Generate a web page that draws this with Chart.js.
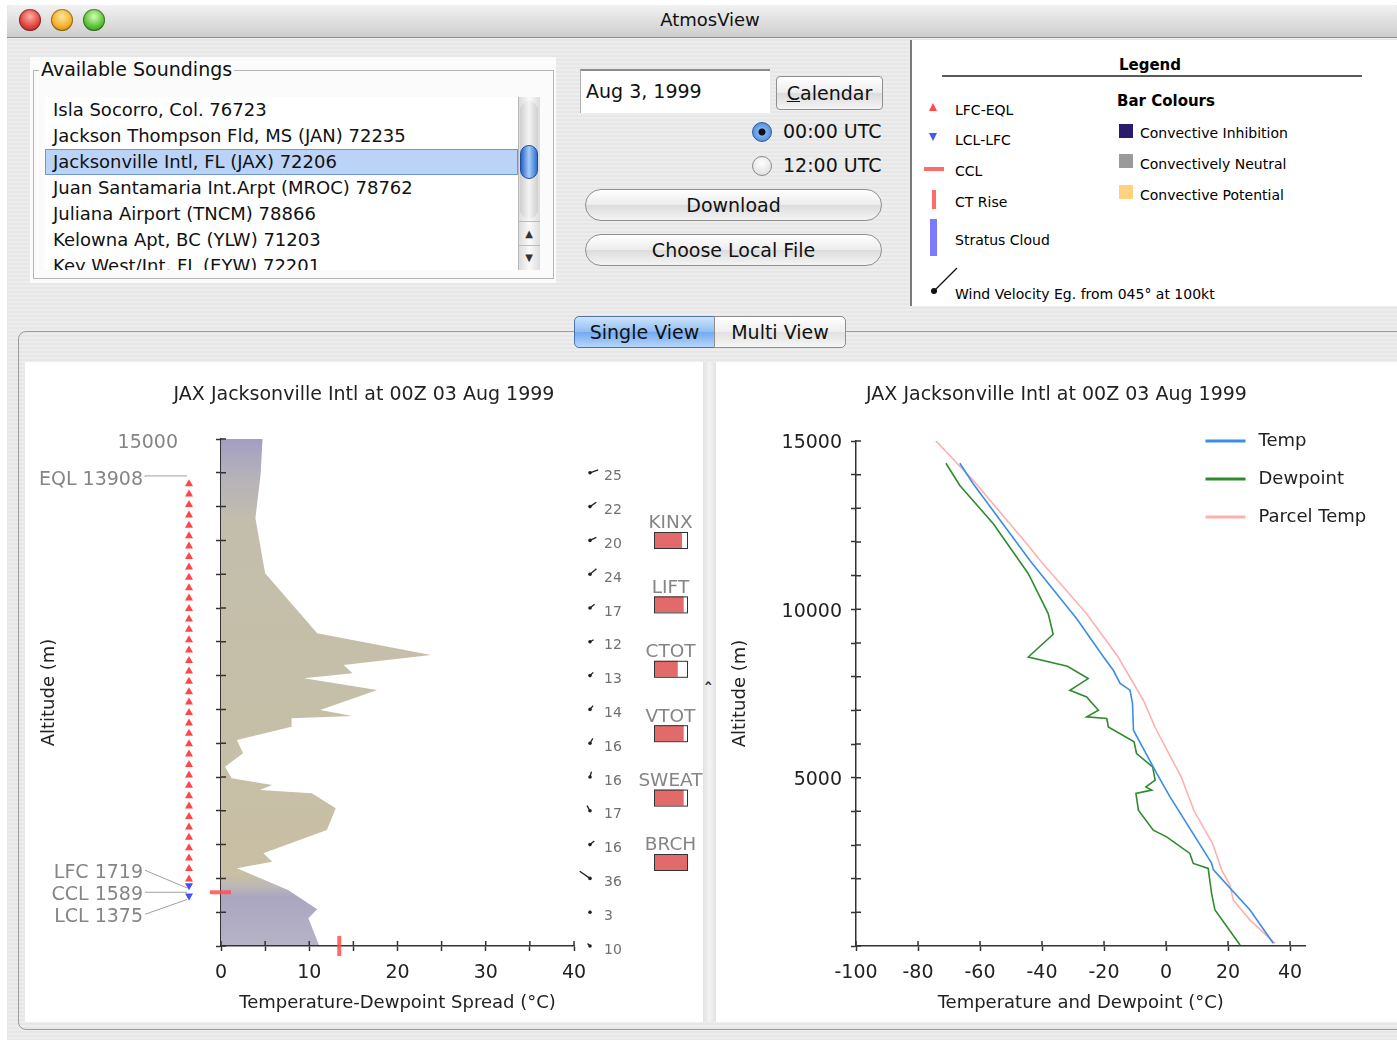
<!DOCTYPE html>
<html>
<head>
<meta charset="utf-8">
<title>AtmosView</title>
<script src="https://cdn.jsdelivr.net/npm/chart.js@4.4.1/dist/chart.umd.min.js"></script>
<style>
  body { margin:0; width:1397px; height:1042px; position:relative; overflow:hidden; background:#fff;
         font-family:"DejaVu Sans", sans-serif; color:#111; }
  .abs { position:absolute; }
  #win { left:7px; top:5px; width:1390px; height:1035px;
         background:repeating-linear-gradient(180deg,#ededed 0 2px,#e7e7e7 2px 4px); }
  #titlebar { left:7px; top:5px; width:1390px; height:32px; border-radius:6px 6px 0 0;
              background:linear-gradient(#f2f2f2,#cdcdcd); border-bottom:1px solid #8e8e8e; }
  .light { width:22px; height:22px; border-radius:50%; top:9px; box-shadow:inset 0 0 0 1px rgba(0,0,0,.35); }
  #wintitle { left:710px; top:9px; transform:translateX(-50%); font-size:18px; }
  #soundBox { left:30px; top:57px; width:526px; height:226px; background:#fbfbfb; }
  #soundFrame { left:33px; top:70px; width:519px; height:207px; border:1px solid #b4b4b4; }
  #soundTitle { left:39px; top:58px; font-size:19px; background:#fbfbfb; padding:0 2px; }
  #list { left:45px; top:97px; width:473px; height:173px; overflow:hidden; background:#fff; }
  .item { height:26px; line-height:26px; padding-left:8px; font-size:18px; white-space:nowrap; box-sizing:border-box; }
  .sel { background:#bad3f7; border:1px solid #6f97d6; line-height:24px; padding-left:7px; }
  #scroll { left:518px; top:97px; width:22px; height:173px; background:linear-gradient(90deg,#dcdcdc,#fafafa 50%,#dcdcdc);
            border-left:1px solid #b8b8b8; box-sizing:border-box; }
  #thumbTrack { left:520px; top:101px; width:18px; height:118px; border-radius:9px;
                background:linear-gradient(90deg,#cfcfcf,#f4f4f4 50%,#cfcfcf); }
  #thumb { left:520px; top:145px; width:18px; height:34px; border-radius:9px;
           background:linear-gradient(90deg,#2a62c8,#a7cdf7 50%,#2f6fd6); border:1px solid #1c4c9e; box-sizing:border-box; }
  .arrow { left:518px; width:22px; height:24px; font-size:10px; text-align:center; line-height:24px; color:#333;
           border-top:1px solid #bbb; box-sizing:border-box; }
  #dateField { left:580px; top:69px; width:190px; height:44px; background:#fff; border-top:2px solid #8c8c8c;
               border-left:1px solid #b0b0b0; box-sizing:border-box; font-size:19px; line-height:40px; padding-left:5px; }
  .btn { border:1px solid #8f8f8f; background:linear-gradient(#ffffff,#ececec 50%,#dcdcdc 51%,#f4f4f4);
         box-sizing:border-box; text-align:center; font-size:19px; }
  #calBtn { left:776px; top:76px; width:107px; height:34px; line-height:32px; border-radius:4px; }
  #dlBtn { left:585px; top:189px; width:297px; height:32px; line-height:30px; border-radius:16px; }
  #fileBtn { left:585px; top:234px; width:297px; height:32px; line-height:30px; border-radius:16px; }
  .radio { width:20px; height:20px; border-radius:50%; border:1px solid #8a8a8a; box-sizing:border-box;
           background:radial-gradient(circle at 50% 35%,#ffffff,#d8d8d8); }
  .radio.on { background:radial-gradient(circle,#111 0 3px,#7fb1f0 4px,#3a78d6 100%); border-color:#2c5aa5; }
  .rlabel { font-size:19px; }
  #legendPanel { left:910px; top:40px; width:487px; height:266px; background:#fff; border-left:2px solid #7a7a7a;
                 box-sizing:border-box; }
  #tabPanel { left:18px; top:331px; width:1390px; height:699px; border:1px solid #9c9c9c; border-radius:8px;
              box-sizing:border-box; }
  .tab { top:316px; height:32px; font-size:19px; line-height:30px; text-align:center; box-sizing:border-box; }
  #tab1 { left:574px; width:141px; border:1px solid #4f74ad; border-radius:5px 0 0 5px;
          background:linear-gradient(#cfe3fb,#8fbdf2 50%,#74aaf0 51%,#b6d6fa); }
  #tab2 { left:714px; width:132px; border:1px solid #8f8f8f; border-radius:0 5px 5px 0;
          background:linear-gradient(#ffffff,#eeeeee 50%,#e0e0e0 51%,#f6f6f6); }
  .pane { top:362px; height:660px; background:#fff; }
  #paneL { left:25px; width:678px; }
  #paneR { left:716px; width:681px; }
  #divider { left:703px; top:362px; width:13px; height:660px;
             background:linear-gradient(90deg,#e2e2e2,#f3f3f3 50%,#e2e2e2); }
  #caret { left:704px; top:680px; font-size:17px; font-weight:bold; color:#333; }
</style>
</head>
<body>
<div id="win" class="abs"></div>
<div id="titlebar" class="abs"></div>
<div class="abs light" style="left:19px;background:radial-gradient(circle at 50% 35%,#ffb0a8,#e0443e 55%,#9e1d18);"></div>
<div class="abs light" style="left:51px;background:radial-gradient(circle at 50% 35%,#ffe6a0,#f3b22a 55%,#a86b06);"></div>
<div class="abs light" style="left:83px;background:radial-gradient(circle at 50% 35%,#d6ffb6,#5cc23a 55%,#2a7a12);"></div>
<div id="wintitle" class="abs">AtmosView</div>

<div id="soundBox" class="abs"></div>
<div id="soundFrame" class="abs"></div>
<div id="soundTitle" class="abs">Available Soundings</div>
<div id="list" class="abs"></div>
<div id="scroll" class="abs"></div>
<div id="thumbTrack" class="abs"></div>
<div id="thumb" class="abs"></div>
<div class="abs arrow" style="top:221px;">&#9650;</div>
<div class="abs arrow" style="top:245px;">&#9660;</div>

<div id="dateField" class="abs">Aug 3, 1999</div>
<div id="calBtn" class="abs btn"><u>C</u>alendar</div>
<div class="abs radio on" style="left:752px;top:122px;"></div>
<div class="abs rlabel" style="left:783px;top:120px;">00:00 UTC</div>
<div class="abs radio" style="left:752px;top:156px;"></div>
<div class="abs rlabel" style="left:783px;top:154px;">12:00 UTC</div>
<div id="dlBtn" class="abs btn">Download</div>
<div id="fileBtn" class="abs btn">Choose Local File</div>

<div id="legendPanel" class="abs">
  <svg width="487" height="266" font-family="DejaVu Sans" font-size="14">
    <text x="238" y="30" text-anchor="middle" font-weight="bold" font-size="15">Legend</text>
    <line x1="30" y1="36" x2="450" y2="36" stroke="#222" stroke-width="1.5"/>
    <polygon points="17,71 25,71 21,63" fill="#ff4a4a"/>
    <text x="43" y="75">LFC-EQL</text>
    <polygon points="17,93 25,93 21,101" fill="#4455ff"/>
    <text x="43" y="105">LCL-LFC</text>
    <rect x="12" y="127" width="20" height="4" fill="#ff6b6b"/>
    <text x="43" y="136">CCL</text>
    <rect x="20" y="150" width="4" height="19" fill="#ff6b6b"/>
    <text x="43" y="167">CT Rise</text>
    <rect x="18" y="179" width="7" height="37" fill="#7b7bff"/>
    <text x="43" y="205">Stratus Cloud</text>
    <line x1="22" y1="251" x2="45" y2="228" stroke="#111" stroke-width="1.3"/>
    <circle cx="22" cy="251" r="3" fill="#111"/>
    <text x="43" y="259">Wind Velocity Eg. from 045° at 100kt</text>
    <text x="205" y="66" font-weight="bold" font-size="15">Bar Colours</text>
    <rect x="207" y="84" width="14" height="14" fill="#2b1b6e"/>
    <text x="228" y="98">Convective Inhibition</text>
    <rect x="207" y="114" width="14" height="14" fill="#9a9a9a"/>
    <text x="228" y="129">Convectively Neutral</text>
    <rect x="207" y="145" width="14" height="14" fill="#ffd27f"/>
    <text x="228" y="160">Convective Potential</text>
  </svg>
</div>

<div id="tabPanel" class="abs"></div>
<div id="tab1" class="abs tab">Single View</div>
<div id="tab2" class="abs tab">Multi View</div>

<div id="paneL" class="abs pane"><canvas id="spreadChart" width="678" height="660"></canvas></div>
<div id="divider" class="abs"></div>
<div id="caret" class="abs">&#710;</div>
<div id="paneR" class="abs pane"><canvas id="profileChart" width="681" height="660"></canvas></div>

<script>
// station list in the top panel
const stations = ["Isla Socorro, Col. 76723", "Jackson Thompson Fld, MS (JAN) 72235",
  "Jacksonville Intl, FL (JAX) 72206", "Juan Santamaria Int.Arpt (MROC) 78762",
  "Juliana Airport (TNCM) 78866", "Kelowna Apt, BC (YLW) 71203", "Key West/Int, FL (EYW) 72201"];
const selectedStation = 2;

const titleText = "JAX Jacksonville Intl at 00Z 03 Aug 1999";

// temperature - dewpoint spread profile (m, degC)
const spreadHeights = [30, 820, 1086, 1657, 2298, 2494, 2742, 3432, 4073, 4517, 4615, 4763, 4962, 5305, 5700,
  6095, 6488, 6736, 6805, 6982, 7574, 7920, 8068, 8314, 8610, 9250, 11027, 12654, 13985, 15000];
const spreadValues = [11.1, 9.9, 10.9, 7.6, 1.8, 5.8, 4.8, 12.0, 13.0, 10.3, 4.4, 5.8, 1.2, 0.45, 2.5,
  1.8, 8.0, 8.0, 14.9, 11.25, 17.7, 9.4, 14.9, 13.9, 23.8, 10.9, 5.0, 3.9, 4.5, 4.7];

// temperature profile
const tempHeights = [80, 1070, 2260, 2460, 4430, 5125, 6410, 7200, 7600, 7800, 8190, 8590, 9720, 11450, 11850, 13730, 14340];
const tempValues = [34.6, 27.1, 15.3, 14.7, 1.3, -3.0, -10.5, -10.8, -11.6, -14.8, -17.0, -20.2, -28.8, -43.9, -47.1, -62.2, -66.5];

// dewpoint profile
const dewHeights = [30, 1068, 1563, 2305, 2453, 2750, 3243, 3440, 4036, 4530, 4630, 4727, 4926, 5320, 5718, 6063,
  6508, 6756, 6805, 7003, 7398, 7596, 7943, 8309, 8585, 9258, 9872, 11059, 12540, 13680, 14340];
const dewValues = [23.9, 15.8, 14.7, 13.6, 8.8, 7.7, 0.2, -4.1, -8.9, -9.7, -4.6, -6.5, -3.5, -4.3, -9.5, -10.3,
  -18.6, -19.1, -25.6, -21.8, -25.6, -31.0, -25.1, -31.8, -44.4, -36.4, -38.0, -44.4, -55.7, -66.5, -71.0];

// lifted parcel
const parcelHeights = [80, 770, 1365, 1810, 2255, 3050, 4024, 5000, 6490, 7300, 8590, 9870, 11450, 11950, 13830, 15030];
const parcelValues = [35.2, 27.1, 21.7, 20.6, 18.0, 15.0, 9.0, 5.0, -3.5, -7.3, -15.5, -25.6, -40.6, -44.9, -62.2, -74.5];

// significant levels (m)
const levelNames = ["EQL", "LFC", "CCL", "LCL"];
const levelHeights = [13908, 1719, 1589, 1375];
const ctRise = 13.4;

// winds
const windHeights = [14000, 13000, 12000, 11000, 10000, 9000, 8000, 7000, 6000, 5000, 4000, 3000, 2000, 1000, 0];
const windSpeeds = [25, 22, 20, 24, 17, 12, 13, 14, 16, 16, 17, 16, 36, 3, 10];
const windDirs = [70, 55, 65, 50, 50, 60, 45, 40, 30, 15, 330, 50, 305, 0, 315];

// stability indices
const indexNames = ["KINX", "LIFT", "CTOT", "VTOT", "SWEAT", "BRCH"];
const indexFill = [0.85, 0.9, 0.72, 0.9, 0.9, 1.0];

// fill the station list
const list = document.getElementById("list");
stations.forEach((s, i) => {
  const d = document.createElement("div");
  d.className = "item" + (i === selectedStation ? " sel" : "");
  d.textContent = s;
  list.appendChild(d);
});

Chart.defaults.font.family = "DejaVu Sans";
Chart.defaults.color = "#222";

const pts = (hs, vs) => hs.map((h, i) => ({x: vs[i], y: h}));

function axisStyle(extra) {
  return Object.assign({
    type: "linear",
    border: {color: "#333", width: 1.5},
    grid: {drawOnChartArea: false, tickLength: 5, tickColor: "#333", tickWidth: 1.5}
  }, extra);
}

// tick marks that cross the axis line
const innerTicks = {
  id: "innerTicks",
  afterDraw(chart) {
    const {ctx, chartArea: a, scales: {x, y}} = chart;
    ctx.save();
    ctx.strokeStyle = "#333";
    ctx.lineWidth = 1.5;
    ctx.beginPath();
    x.ticks.forEach(t => {
      const px = x.getPixelForValue(t.value);
      ctx.moveTo(px, a.bottom); ctx.lineTo(px, a.bottom - 5);
    });
    y.ticks.forEach(t => {
      const py = y.getPixelForValue(t.value);
      ctx.moveTo(a.left, py); ctx.lineTo(a.left + 5, py);
    });
    ctx.stroke();
    ctx.restore();
  }
};

// chart title centred on the whole panel
const panelTitle = {
  id: "panelTitle",
  afterDraw(chart) {
    const ctx = chart.ctx;
    ctx.save();
    ctx.font = "19px DejaVu Sans";
    ctx.fillStyle = "#222";
    ctx.textAlign = "center";
    ctx.textBaseline = "middle";
    ctx.fillText(titleText, chart.width / 2, 33);
    ctx.restore();
  }
};

function spreadFill(context) {
  const chart = context.chart;
  const y = chart.scales && chart.scales.y;
  if (!chart.chartArea || !y) return "rgb(196,189,166)";
  const top = y.getPixelForValue(15000), bot = y.getPixelForValue(0);
  const g = chart.ctx.createLinearGradient(0, top, 0, bot);
  const stop = (h, c) => g.addColorStop(Math.min(1, Math.max(0, (y.getPixelForValue(h) - top) / (bot - top))), c);
  stop(15000, "rgb(163,158,194)");
  stop(14000, "rgb(180,176,186)");
  stop(12500, "rgb(195,190,172)");
  stop(2100, "rgb(200,191,164)");
  stop(1750, "rgb(188,183,182)");
  stop(1450, "rgb(170,166,193)");
  stop(0, "rgb(182,179,197)");
  return g;
}

function triangle(ctx, cx, cy, dir) {
  ctx.beginPath();
  ctx.moveTo(cx - 4, cy + 3.5 * dir);
  ctx.lineTo(cx + 4, cy + 3.5 * dir);
  ctx.lineTo(cx, cy - 3.5 * dir);
  ctx.closePath();
  ctx.fill();
}

// level markers, wind column and index bars of the left chart
const soundingMarks = {
  id: "soundingMarks",
  afterDraw(chart) {
    const {ctx, chartArea: a, scales: {x, y}} = chart;
    const py = h => y.getPixelForValue(h);
    const [eql, lfc, ccl, lcl] = levelHeights.map(py);
    const colX = a.left - 32;
    ctx.save();

    ctx.fillStyle = "#ff4646";
    for (let yy = lfc - 10; yy >= eql + 6; yy -= 10.4) triangle(ctx, colX, yy, 1);
    ctx.fillStyle = "#4050ff";
    for (let yy = lcl - 2.5; yy >= lfc - 2; yy -= 10.4) triangle(ctx, colX, yy, -1);

    // labels with leader lines
    ctx.font = "19px DejaVu Sans";
    ctx.fillStyle = "#858585";
    ctx.textAlign = "right";
    ctx.textBaseline = "middle";
    const labelX = a.left - 78;
    const labelY = [eql + 4, ccl - 19, ccl + 3, ccl + 25];
    const lineY = [eql, lfc, ccl, lcl];
    ctx.strokeStyle = "#a0a0a0";
    ctx.lineWidth = 1;
    levelNames.forEach((n, i) => {
      ctx.fillText(n + " " + levelHeights[i], labelX, labelY[i]);
      ctx.beginPath();
      ctx.moveTo(labelX + 2, labelY[i] - 3);
      if (i === 0) ctx.lineTo(labelX + 2, lineY[i]);
      ctx.lineTo(colX - 2, lineY[i]);
      ctx.stroke();
    });

    // CCL and CT rise bars
    ctx.fillStyle = "rgba(255,80,80,0.85)";
    ctx.fillRect(a.left - 11, ccl - 2, 21, 4);
    const ct = x.getPixelForValue(ctRise);
    ctx.fillRect(ct - 2, a.bottom - 10, 4, 20);

    // wind column
    const wx = a.right + 16;
    ctx.strokeStyle = "#222";
    ctx.fillStyle = "#222";
    windHeights.forEach((h, i) => {
      const wy = py(h);
      const r = windDirs[i] * Math.PI / 180;
      const len = Math.max(1.5, windSpeeds[i] * 0.35);
      ctx.lineWidth = 1.3;
      ctx.beginPath();
      ctx.moveTo(wx, wy);
      ctx.lineTo(wx + Math.sin(r) * len, wy - Math.cos(r) * len);
      ctx.stroke();
      ctx.beginPath();
      ctx.arc(wx, wy, 1.8, 0, Math.PI * 2);
      ctx.fill();
    });
    ctx.font = "14px DejaVu Sans";
    ctx.fillStyle = "#707070";
    ctx.textAlign = "left";
    windHeights.forEach((h, i) => ctx.fillText(String(windSpeeds[i]), a.right + 30, py(h) + 4));

    // stability index bars
    ctx.font = "18.5px DejaVu Sans";
    ctx.textAlign = "center";
    indexNames.forEach((n, i) => {
      const top = a.top + 93 + i * 64.4;
      const bx = a.right + 80;
      ctx.fillStyle = "#fff";
      ctx.fillRect(bx, top, 33, 16);
      ctx.fillStyle = "#e26a6a";
      ctx.fillRect(bx, top, 33 * indexFill[i], 16);
      ctx.strokeStyle = "#333";
      ctx.lineWidth = 1;
      ctx.strokeRect(bx + 0.5, top + 0.5, 33, 16);
      ctx.fillStyle = "#858585";
      ctx.fillText(n, bx + 16.5, top - 8.5);
    });
    ctx.restore();
  }
};

// legend of the right chart
const lineLegend = {
  id: "lineLegend",
  afterDraw(chart) {
    const {ctx, chartArea: a} = chart;
    ctx.save();
    ctx.font = "18px DejaVu Sans";
    ctx.textBaseline = "middle";
    chart.data.datasets.forEach((ds, i) => {
      const ly = a.top + i * 38;
      ctx.strokeStyle = ds.borderColor;
      ctx.lineWidth = 3;
      ctx.beginPath();
      ctx.moveTo(a.right - 100, ly);
      ctx.lineTo(a.right - 60, ly);
      ctx.stroke();
      ctx.fillStyle = "#222";
      ctx.fillText(ds.label, a.right - 47, ly);
    });
    ctx.restore();
  }
};

new Chart(document.getElementById("spreadChart"), {
  type: "line",
  data: {
    datasets: [{
      label: "Spread",
      data: pts(spreadHeights, spreadValues),
      fill: "origin",
      borderWidth: 0,
      pointRadius: 0,
      backgroundColor: spreadFill
    }]
  },
  options: {
    indexAxis: "y",
    responsive: false,
    animation: false,
    layout: {padding: {left: 4, right: 129, top: 77, bottom: 0}},
    plugins: {
      legend: {display: false},
      tooltip: {enabled: false}
    },
    scales: {
      x: axisStyle({
        position: "bottom", min: 0, max: 40,
        afterFit: s => { s.height = 76; },
        ticks: {stepSize: 5, autoSkip: false, maxRotation: 0, padding: 11, color: "#222", font: {size: 19},
                callback: v => v % 10 === 0 ? String(v) : ""},
        title: {display: true, text: "Temperature-Dewpoint Spread (°C)", color: "#222", font: {size: 18},
                padding: {top: 0, bottom: 7.5}}
      }),
      y: axisStyle({
        position: "left", min: 0, max: 15000,
        afterFit: s => { s.width = 192; },
        ticks: {stepSize: 1000, autoSkip: false, padding: 38, labelOffset: 4, color: "#858585", font: {size: 19},
                callback: v => v === 15000 ? "15000" : ""},
        title: {display: true, text: "Altitude (m)", color: "#222", font: {size: 18}, padding: {top: 10, bottom: 0}}
      })
    }
  },
  plugins: [innerTicks, soundingMarks, panelTitle]
});

new Chart(document.getElementById("profileChart"), {
  type: "scatter",
  data: {
    datasets: [
      {label: "Temp", data: pts(tempHeights, tempValues), borderColor: "#3a8ee6"},
      {label: "Dewpoint", data: pts(dewHeights, dewValues), borderColor: "#2e8b2e"},
      {label: "Parcel Temp", data: pts(parcelHeights, parcelValues), borderColor: "#ffb0b0"}
    ].map(d => Object.assign(d, {showLine: true, pointRadius: 0, borderWidth: 1.6, fill: false}))
  },
  options: {
    responsive: false,
    animation: false,
    layout: {padding: {left: 4, right: 91.5, top: 79, bottom: 0}},
    plugins: {
      legend: {display: false},
      tooltip: {enabled: false}
    },
    scales: {
      x: axisStyle({
        position: "bottom", min: -100, max: 45, bounds: "data",
        afterFit: s => { s.height = 76; },
        afterBuildTicks: s => { s.ticks = s.ticks.filter(t => t.value % 20 === 0); },
        ticks: {stepSize: 20, autoSkip: false, maxRotation: 0, padding: 11, color: "#222",
                font: {size: 19}, callback: v => String(v)},
        title: {display: true, text: "Temperature and Dewpoint (°C)", color: "#222", font: {size: 18},
                padding: {top: 0, bottom: 7.5}}
      }),
      y: axisStyle({
        position: "left", min: 0, max: 15000,
        afterFit: s => { s.width = 136; },
        ticks: {stepSize: 1000, autoSkip: false, padding: 9, labelOffset: 2.5, color: "#222", font: {size: 19},
                callback: v => (v % 5000 === 0 && v > 0) ? String(v) : ""},
        title: {display: true, text: "Altitude (m)", color: "#222", font: {size: 18}, padding: {top: 10, bottom: 0}}
      })
    }
  },
  plugins: [innerTicks, lineLegend, panelTitle]
});
</script>
</body>
</html>
